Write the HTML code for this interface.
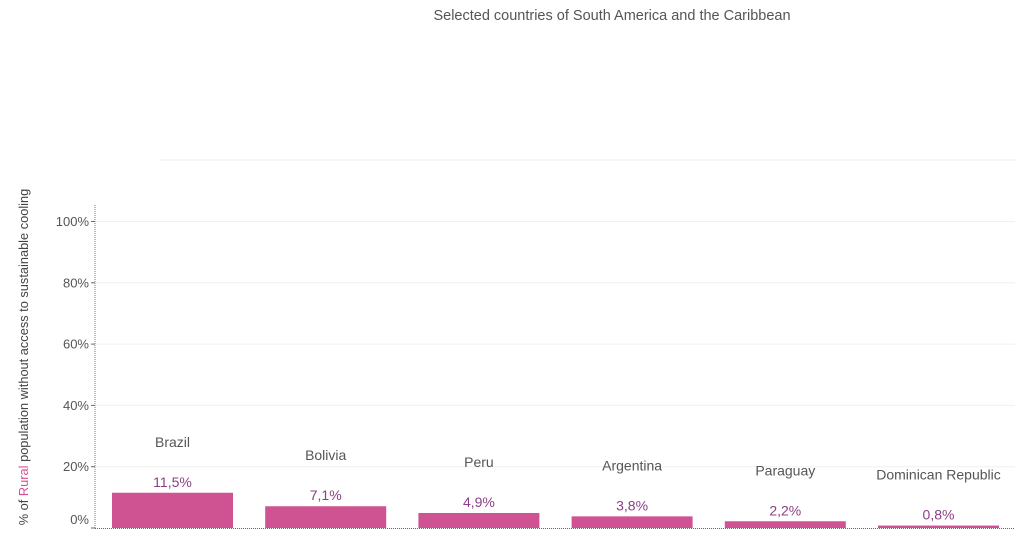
<!DOCTYPE html>
<html><head><meta charset="utf-8"><style>
html,body{margin:0;padding:0;background:#fff;width:1024px;height:542px;overflow:hidden;font-family:"Liberation Sans","DejaVu Sans",sans-serif}
</style></head><body>
<svg id="chart" width="1024" height="542" xmlns="http://www.w3.org/2000/svg">
<text x="612" y="20" text-anchor="middle" font-size="14.5" fill="#555">Selected countries of South America and the Caribbean</text>
<line x1="160" y1="160" x2="1015" y2="160" stroke="#eee" stroke-width="1"/>
<text transform="translate(28,357) rotate(-90)" text-anchor="middle" font-size="12.8" fill="#444">% of <tspan fill="#d94f94">Rural</tspan> population without access to sustainable cooling</text>
<g id="grid"></g><g id="bars"></g>
<line x1="95" y1="205" x2="95" y2="529" stroke="#777" stroke-width="1" stroke-dasharray="1,1"/>
<line x1="95" y1="528.5" x2="1015" y2="528.5" stroke="#666" stroke-width="1" stroke-dasharray="1,1"/>
</svg>
<script>
const categories=["Brazil","Bolivia","Peru","Argentina","Paraguay","Dominican Republic"];
const values=[11.5,7.1,4.9,3.8,2.2,0.8];
const valueLabels=["11,5%","7,1%","4,9%","3,8%","2,2%","0,8%"];
const yTicks=[0,20,40,60,80,100];
const ns="http://www.w3.org/2000/svg";
const y0=528,pxPer=3.065;
function y(v){return y0-v*pxPer;}
function x(i){return 112+i*153.2;}
const barW=121;
const grid=document.getElementById('grid');
yTicks.forEach(t=>{
  const ty=y(t);
  if(t>0){const l=document.createElementNS(ns,'line');
  l.setAttribute('x1',96);l.setAttribute('x2',1015);l.setAttribute('y1',ty);l.setAttribute('y2',ty);
  l.setAttribute('stroke','#f0f0f0');
  
  
  grid.appendChild(l);}
  const tk=document.createElementNS(ns,'line');
  tk.setAttribute('x1',91);tk.setAttribute('x2',95);tk.setAttribute('y1',ty);tk.setAttribute('y2',ty);tk.setAttribute('stroke','#666');
  
  
  grid.appendChild(tk);
  const tx=document.createElementNS(ns,'text');
  tx.setAttribute('x',89);tx.setAttribute('y',t===0?ty-4:ty+4.5);tx.setAttribute('text-anchor','end');
  tx.setAttribute('font-size','13');tx.setAttribute('fill','#555');tx.textContent=t+'%';
  
  
  grid.appendChild(tx);
});
const bars=document.getElementById('bars');
categories.forEach((c,i)=>{
  const top=y(values[i]);
  const r=document.createElementNS(ns,'rect');
  r.setAttribute('x',x(i));r.setAttribute('y',top);r.setAttribute('width',barW);r.setAttribute('height',Math.max(1,y0-top));
  r.setAttribute('fill','#cf5393');
  
  
  bars.appendChild(r);
  const v=document.createElementNS(ns,'text');
  v.setAttribute('x',x(i)+barW/2);v.setAttribute('y',top-6);v.setAttribute('text-anchor','middle');
  v.setAttribute('font-size','14');v.setAttribute('fill','#8a3f86');v.textContent=valueLabels[i];
  
  
  bars.appendChild(v);
  const n=document.createElementNS(ns,'text');
  n.setAttribute('x',x(i)+barW/2);n.setAttribute('y',top-46);n.setAttribute('text-anchor','middle');
  n.setAttribute('font-size','14');n.setAttribute('fill','#555');n.textContent=c;
  
  
  bars.appendChild(n);
});
</script>
</body></html>
